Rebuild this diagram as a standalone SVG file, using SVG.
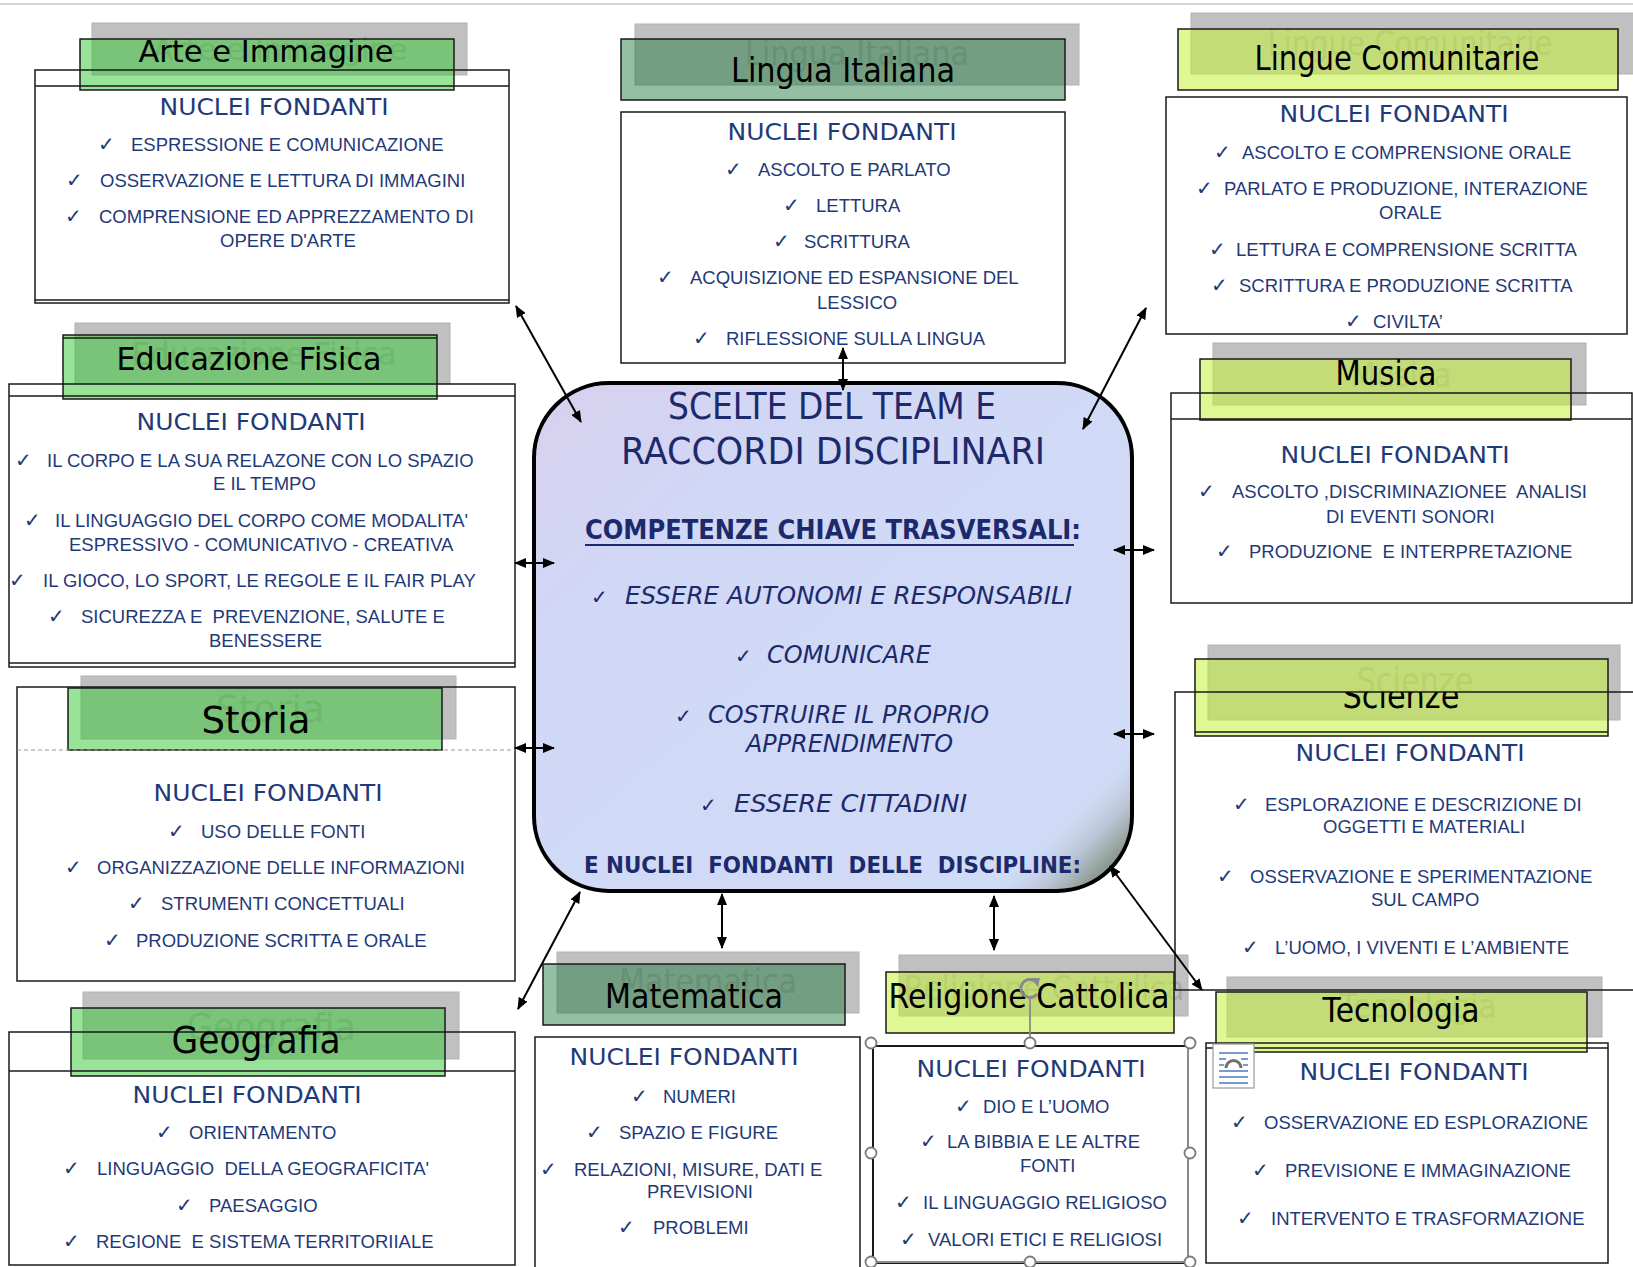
<svg xmlns="http://www.w3.org/2000/svg" width="1633" height="1267" viewBox="0 0 1633 1267">
<style>
.sh{fill:#c0c0c0;stroke:#b2b2b2;stroke-width:1}
.tg{fill:#32c832;fill-opacity:.5;stroke:#1a1a1a;stroke-width:1.5}
.td{fill:#1e783c;fill-opacity:.47;stroke:#1a1a1a;stroke-width:1.5}
.ty{fill:#c6f23c;fill-opacity:.55;stroke:#1a1a1a;stroke-width:1.5}
.bx{fill:none;stroke:#1a1a1a;stroke-width:1.5}
.cm{font-family:"Comic Sans MS","DejaVu Sans",sans-serif}
.tt{fill:#000;text-anchor:middle}
.gh{fill:#a8a8a8;text-anchor:middle}
.nf{font-size:23px;fill:#1f3a78;text-anchor:middle}
.it{font-family:"Liberation Sans",Arial,sans-serif;font-size:18.5px;fill:#1f3a78}
.ck{font-family:"DejaVu Sans",sans-serif;font-size:20px}
.cc{fill:#1c2a6b}
.con line{stroke:#000;stroke-width:2;marker-start:url(#ah);marker-end:url(#ah)}
.hd{fill:#fff;stroke:#7a7a7a;stroke-width:1.8}
</style>
<defs>
<marker id="ah" viewBox="0 0 12 10" refX="11" refY="5" markerWidth="12" markerHeight="10" markerUnits="userSpaceOnUse" orient="auto-start-reverse"><path d="M0,0 L12,5 L0,10 z" fill="#000"/></marker>
<linearGradient id="cg" x1="0" y1="0" x2="1" y2="1"><stop offset="0" stop-color="#d8d0ee"/><stop offset="0.3" stop-color="#d0d8f6"/><stop offset="1" stop-color="#d0dcf8"/></linearGradient>
<linearGradient id="corner" gradientUnits="userSpaceOnUse" x1="940" y1="700" x2="1132" y2="892"><stop offset="0" stop-color="#d0dcf8" stop-opacity="0"/><stop offset="0.62" stop-color="#c8d2ea" stop-opacity="0"/><stop offset="0.75" stop-color="#b4bfcc" stop-opacity="0.7"/><stop offset="0.86" stop-color="#8e9c92"/><stop offset="1" stop-color="#6b7b6b"/></linearGradient>
<clipPath id="scClip"><rect x="1190" y="692" width="430" height="60"/></clipPath>
</defs>
<rect width="1633" height="1267" fill="#fff"/>
<line x1="0" y1="4" x2="1633" y2="4" stroke="#d4d4d4" stroke-width="2"/>

<g id="arte">
<rect class="sh" x="92" y="23" width="375" height="52"/>
<text class="cm gh" x="280" y="60" font-size="31" textLength="255" lengthAdjust="spacingAndGlyphs">Arte e Immagine</text>
<rect class="tg" x="80" y="39" width="374" height="51"/>
<rect class="bx" x="35" y="70" width="474" height="233"/>
<path class="bx" d="M35,86 H509 M35,300 H509"/>
<text class="cm tt" x="266" y="62" font-size="31" textLength="255" lengthAdjust="spacingAndGlyphs">Arte e Immagine</text>
<text class="cm nf" x="274" y="115" textLength="229" lengthAdjust="spacingAndGlyphs">NUCLEI FONDANTI</text>
<text class="it" y="151"><tspan class="ck" x="98">✓</tspan><tspan x="131">ESPRESSIONE E COMUNICAZIONE</tspan></text>
<text class="it" y="187"><tspan class="ck" x="66">✓</tspan><tspan x="100">OSSERVAZIONE E LETTURA DI IMMAGINI</tspan></text>
<text class="it" y="223"><tspan class="ck" x="65">✓</tspan><tspan x="99">COMPRENSIONE ED APPREZZAMENTO DI</tspan></text>
<text class="it" x="220" y="247">OPERE D'ARTE</text>
</g>

<g id="lingua-italiana">
<rect class="sh" x="635" y="24" width="444" height="61"/>
<text class="cm gh" x="857" y="65" font-size="34" textLength="224" lengthAdjust="spacingAndGlyphs">Lingua Italiana</text>
<rect class="td" x="621" y="39" width="444" height="61"/>
<rect class="bx" x="621" y="112" width="444" height="251"/>
<text class="cm tt" x="843" y="82" font-size="34" textLength="224" lengthAdjust="spacingAndGlyphs">Lingua Italiana</text>
<text class="cm nf" x="842" y="140" textLength="229" lengthAdjust="spacingAndGlyphs">NUCLEI FONDANTI</text>
<text class="it" y="176"><tspan class="ck" x="725">✓</tspan><tspan x="758">ASCOLTO E PARLATO</tspan></text>
<text class="it" y="212"><tspan class="ck" x="783">✓</tspan><tspan x="816">LETTURA</tspan></text>
<text class="it" y="248"><tspan class="ck" x="773">✓</tspan><tspan x="804">SCRITTURA</tspan></text>
<text class="it" y="284"><tspan class="ck" x="657">✓</tspan><tspan x="690">ACQUISIZIONE ED ESPANSIONE DEL</tspan></text>
<text class="it" x="817" y="309">LESSICO</text>
<text class="it" y="345"><tspan class="ck" x="693">✓</tspan><tspan x="726">RIFLESSIONE SULLA LINGUA</tspan></text>
</g>

<g id="lingue-comunitarie">
<rect class="sh" x="1191" y="13" width="445" height="61"/>
<text class="cm gh" x="1410" y="55" font-size="34" textLength="285" lengthAdjust="spacingAndGlyphs">Lingue Comunitarie</text>
<rect class="ty" x="1178" y="29" width="440" height="61"/>
<rect class="bx" x="1166" y="97" width="461" height="237"/>
<text class="cm tt" x="1397" y="70" font-size="34" textLength="285" lengthAdjust="spacingAndGlyphs">Lingue Comunitarie</text>
<text class="cm nf" x="1394" y="122" textLength="229" lengthAdjust="spacingAndGlyphs">NUCLEI FONDANTI</text>
<text class="it" y="159"><tspan class="ck" x="1214">✓</tspan><tspan x="1242">ASCOLTO E COMPRENSIONE ORALE</tspan></text>
<text class="it" y="195"><tspan class="ck" x="1196">✓</tspan><tspan x="1224">PARLATO E PRODUZIONE, INTERAZIONE</tspan></text>
<text class="it" x="1379" y="219">ORALE</text>
<text class="it" y="256"><tspan class="ck" x="1209">✓</tspan><tspan x="1236">LETTURA E COMPRENSIONE SCRITTA</tspan></text>
<text class="it" y="292"><tspan class="ck" x="1211">✓</tspan><tspan x="1239">SCRITTURA E PRODUZIONE SCRITTA</tspan></text>
<text class="it" y="328"><tspan class="ck" x="1345">✓</tspan><tspan x="1373">CIVILTA’</tspan></text>
</g>

<g id="educazione-fisica">
<rect class="sh" x="75" y="323" width="375" height="61"/>
<text class="cm gh" x="264" y="365" font-size="32" textLength="265" lengthAdjust="spacingAndGlyphs">Educazione Fisica</text>
<rect class="tg" x="63" y="335" width="374" height="64"/>
<path class="bx" d="M63,338 H437"/>
<rect class="bx" x="9" y="384" width="506" height="283"/>
<path class="bx" d="M9,396 H515 M9,663 H515"/>
<text class="cm tt" x="249" y="370" font-size="32" textLength="265" lengthAdjust="spacingAndGlyphs">Educazione Fisica</text>
<text class="cm nf" x="251" y="430" textLength="229" lengthAdjust="spacingAndGlyphs">NUCLEI FONDANTI</text>
<text class="it" y="467"><tspan class="ck" x="15">✓</tspan><tspan x="47">IL CORPO E LA SUA RELAZONE CON LO SPAZIO</tspan></text>
<text class="it" x="213" y="490">E IL TEMPO</text>
<text class="it" y="527"><tspan class="ck" x="24">✓</tspan><tspan x="55">IL LINGUAGGIO DEL CORPO COME MODALITA'</tspan></text>
<text class="it" x="69" y="551">ESPRESSIVO - COMUNICATIVO - CREATIVA</text>
<text class="it" y="587"><tspan class="ck" x="9">✓</tspan><tspan x="43">IL GIOCO, LO SPORT, LE REGOLE E IL FAIR PLAY</tspan></text>
<text class="it" y="623"><tspan class="ck" x="48">✓</tspan><tspan x="81">SICUREZZA E&#160; PREVENZIONE, SALUTE E</tspan></text>
<text class="it" x="209" y="647">BENESSERE</text>
</g>

<g id="musica">
<rect class="sh" x="1213" y="343" width="373" height="62"/>
<text class="cm gh" x="1401" y="387" font-size="34" textLength="101" lengthAdjust="spacingAndGlyphs">Musica</text>
<rect class="ty" x="1200" y="359" width="371" height="61"/>
<rect class="bx" x="1171" y="393" width="461" height="210"/>
<path class="bx" d="M1171,419 H1632"/>
<text class="cm tt" x="1386" y="385" font-size="34" textLength="101" lengthAdjust="spacingAndGlyphs">Musica</text>
<text class="cm nf" x="1395" y="463" textLength="229" lengthAdjust="spacingAndGlyphs">NUCLEI FONDANTI</text>
<text class="it" y="498"><tspan class="ck" x="1198">✓</tspan><tspan x="1232">ASCOLTO ,DISCRIMINAZIONEE&#160; ANALISI</tspan></text>
<text class="it" x="1326" y="523">DI EVENTI SONORI</text>
<text class="it" y="558"><tspan class="ck" x="1216">✓</tspan><tspan x="1249">PRODUZIONE&#160; E INTERPRETAZIONE</tspan></text>
</g>

<g id="storia">
<rect class="sh" x="81" y="676" width="375" height="63"/>
<text class="cm gh" x="270" y="722" font-size="38" textLength="109" lengthAdjust="spacingAndGlyphs">Storia</text>
<rect class="tg" x="68" y="688" width="374" height="62"/>
<rect class="bx" x="17" y="687" width="498" height="294"/>
<path d="M17,750 H515" stroke="#9a9a9a" stroke-width="1.2" stroke-dasharray="4 3"/>
<text class="cm tt" x="256" y="733" font-size="38" textLength="109" lengthAdjust="spacingAndGlyphs">Storia</text>
<text class="cm nf" x="268" y="801" textLength="229" lengthAdjust="spacingAndGlyphs">NUCLEI FONDANTI</text>
<text class="it" y="838"><tspan class="ck" x="168">✓</tspan><tspan x="201">USO DELLE FONTI</tspan></text>
<text class="it" y="874"><tspan class="ck" x="65">✓</tspan><tspan x="97">ORGANIZZAZIONE DELLE INFORMAZIONI</tspan></text>
<text class="it" y="910"><tspan class="ck" x="128">✓</tspan><tspan x="161">STRUMENTI CONCETTUALI</tspan></text>
<text class="it" y="947"><tspan class="ck" x="104">✓</tspan><tspan x="136">PRODUZIONE SCRITTA E ORALE</tspan></text>
</g>

<g id="geografia">
<rect class="sh" x="83" y="992" width="376" height="67"/>
<text class="cm gh" x="271" y="1040" font-size="38" textLength="169" lengthAdjust="spacingAndGlyphs">Geografia</text>
<rect class="tg" x="71" y="1008" width="374" height="68"/>
<rect class="bx" x="9" y="1032" width="506" height="233"/>
<path class="bx" d="M9,1071 H515"/>
<text class="cm tt" x="256" y="1053" font-size="38" textLength="169" lengthAdjust="spacingAndGlyphs">Geografia</text>
<text class="cm nf" x="247" y="1103" textLength="229" lengthAdjust="spacingAndGlyphs">NUCLEI FONDANTI</text>
<text class="it" y="1139"><tspan class="ck" x="156">✓</tspan><tspan x="189">ORIENTAMENTO</tspan></text>
<text class="it" y="1175"><tspan class="ck" x="63">✓</tspan><tspan x="97">LINGUAGGIO&#160; DELLA GEOGRAFICITA'</tspan></text>
<text class="it" y="1212"><tspan class="ck" x="176">✓</tspan><tspan x="209">PAESAGGIO</tspan></text>
<text class="it" y="1248"><tspan class="ck" x="63">✓</tspan><tspan x="96">REGIONE&#160; E SISTEMA TERRITORIIALE</tspan></text>
</g>

<g id="matematica">
<rect class="sh" x="557" y="952" width="302" height="61"/>
<text class="cm gh" x="708" y="993" font-size="34" textLength="178" lengthAdjust="spacingAndGlyphs">Matematica</text>
<rect class="td" x="543" y="964" width="302" height="61"/>
<rect class="bx" x="535" y="1037" width="325" height="240"/>
<text class="cm tt" x="694" y="1008" font-size="34" textLength="178" lengthAdjust="spacingAndGlyphs">Matematica</text>
<text class="cm nf" x="684" y="1065" textLength="229" lengthAdjust="spacingAndGlyphs">NUCLEI FONDANTI</text>
<text class="it" y="1103"><tspan class="ck" x="631">✓</tspan><tspan x="663">NUMERI</tspan></text>
<text class="it" y="1139"><tspan class="ck" x="586">✓</tspan><tspan x="619">SPAZIO E FIGURE</tspan></text>
<text class="it" y="1176"><tspan class="ck" x="540">✓</tspan><tspan x="574">RELAZIONI, MISURE, DATI E</tspan></text>
<text class="it" x="647" y="1198">PREVISIONI</text>
<text class="it" y="1234"><tspan class="ck" x="618">✓</tspan><tspan x="653">PROBLEMI</tspan></text>
</g>

<g id="religione-cattolica">
<rect class="sh" x="899" y="955" width="289" height="61"/>
<text class="cm gh" x="1044" y="1000" font-size="34" textLength="281" lengthAdjust="spacingAndGlyphs">Religione Cattolica</text>
<rect class="ty" x="886" y="972" width="288" height="61"/>
<rect x="873" y="1046" width="315" height="217" fill="none" stroke="#1a1a1a" stroke-width="2"/>
<path d="M1188,1043 V1262 H871" fill="none" stroke="#8a8a8a" stroke-width="2"/>
<text class="cm tt" x="1029" y="1008" font-size="34" textLength="281" lengthAdjust="spacingAndGlyphs">Religione Cattolica</text>
<line x1="1030" y1="997" x2="1030" y2="1038" stroke="#8a8a8a" stroke-width="1.8"/>
<path d="M1037,994 A9,9 0 1 1 1035,981" fill="none" stroke="#8a8a8a" stroke-width="3"/>
<path d="M1031,978 L1040,978 L1038,987 z" fill="#8a8a8a"/>
<circle class="hd" cx="871" cy="1043" r="5.5"/><circle class="hd" cx="1030" cy="1043" r="5.5"/><circle class="hd" cx="1190" cy="1043" r="5.5"/>
<circle class="hd" cx="871" cy="1153" r="5.5"/><circle class="hd" cx="1190" cy="1153" r="5.5"/>
<circle class="hd" cx="871" cy="1262" r="5.5"/><circle class="hd" cx="1030" cy="1262" r="5.5"/><circle class="hd" cx="1190" cy="1262" r="5.5"/>
<text class="cm nf" x="1031" y="1077" textLength="229" lengthAdjust="spacingAndGlyphs">NUCLEI FONDANTI</text>
<text class="it" y="1113"><tspan class="ck" x="955">✓</tspan><tspan x="983">DIO E L’UOMO</tspan></text>
<text class="it" y="1148"><tspan class="ck" x="920">✓</tspan><tspan x="947">LA BIBBIA E LE ALTRE</tspan></text>
<text class="it" x="1020" y="1172">FONTI</text>
<text class="it" y="1209"><tspan class="ck" x="895">✓</tspan><tspan x="923">IL LINGUAGGIO RELIGIOSO</tspan></text>
<text class="it" y="1246"><tspan class="ck" x="900">✓</tspan><tspan x="928">VALORI ETICI E RELIGIOSI</tspan></text>
</g>

<g id="tecnologia">
<rect class="sh" x="1227" y="977" width="375" height="60"/>
<text class="cm gh" x="1418" y="1018" font-size="33" textLength="157" lengthAdjust="spacingAndGlyphs">Tecnologia</text>
<rect class="ty" x="1216" y="992" width="371" height="60"/>
<rect class="bx" x="1206" y="1043" width="402" height="220"/>
<path class="bx" d="M1206,1048 H1608"/>
<text class="cm tt" x="1401" y="1022" font-size="33" textLength="157" lengthAdjust="spacingAndGlyphs">Tecnologia</text>
<rect x="1213" y="1044" width="41" height="44" fill="#fff" stroke="#9a9a9a" stroke-width="1.2"/>
<path d="M1219,1053 H1248 M1219,1059 H1226 M1241,1059 H1248 M1219,1065 H1224 M1243,1065 H1248 M1219,1071 H1248 M1219,1077 H1248 M1219,1083 H1248" stroke="#4a7ebb" stroke-width="1.5"/>
<path d="M1226,1068 A7.5,7.5 0 0 1 1241,1068" fill="none" stroke="#707070" stroke-width="3"/>
<text class="cm nf" x="1414" y="1080" textLength="229" lengthAdjust="spacingAndGlyphs">NUCLEI FONDANTI</text>
<text class="it" y="1129"><tspan class="ck" x="1231">✓</tspan><tspan x="1264">OSSERVAZIONE ED ESPLORAZIONE</tspan></text>
<text class="it" y="1177"><tspan class="ck" x="1252">✓</tspan><tspan x="1285">PREVISIONE E IMMAGINAZIONE</tspan></text>
<text class="it" y="1225"><tspan class="ck" x="1237">✓</tspan><tspan x="1271">INTERVENTO E TRASFORMAZIONE</tspan></text>
</g>

<g id="scienze">
<rect class="sh" x="1208" y="645" width="412" height="75"/>
<text class="cm gh" x="1415" y="693" font-size="36" textLength="117" lengthAdjust="spacingAndGlyphs">Scienze</text>
<rect class="ty" x="1195" y="659" width="413" height="77"/>
<path class="bx" d="M1195,732 H1608"/>
<path class="bx" d="M1633,692 H1175 V990 H1633"/>
<text class="cm tt" x="1401" y="708" font-size="36" textLength="117" lengthAdjust="spacingAndGlyphs" clip-path="url(#scClip)">Scienze</text>
<text class="cm nf" x="1410" y="761" textLength="229" lengthAdjust="spacingAndGlyphs">NUCLEI FONDANTI</text>
<text class="it" y="811"><tspan class="ck" x="1233">✓</tspan><tspan x="1265">ESPLORAZIONE E DESCRIZIONE DI</tspan></text>
<text class="it" x="1323" y="833">OGGETTI E MATERIALI</text>
<text class="it" y="883"><tspan class="ck" x="1217">✓</tspan><tspan x="1250">OSSERVAZIONE E SPERIMENTAZIONE</tspan></text>
<text class="it" x="1371" y="906">SUL CAMPO</text>
<text class="it" y="954"><tspan class="ck" x="1242">✓</tspan><tspan x="1275">L’UOMO, I VIVENTI E L’AMBIENTE</tspan></text>
</g>

<g id="center">
<rect x="534" y="383" width="598" height="508" rx="75" fill="url(#cg)"/>
<rect x="534" y="383" width="598" height="508" rx="75" fill="url(#corner)"/>
<rect x="534" y="383" width="598" height="508" rx="75" fill="none" stroke="#000" stroke-width="4"/>
<text class="cm cc" x="832" y="419" font-size="38" text-anchor="middle" textLength="328" lengthAdjust="spacingAndGlyphs">SCELTE DEL TEAM E</text>
<text class="cm cc" x="833" y="464" font-size="38" text-anchor="middle" textLength="424" lengthAdjust="spacingAndGlyphs">RACCORDI DISCIPLINARI</text>
<text class="cm cc" x="585" y="539" font-size="26" font-weight="bold" textLength="496" lengthAdjust="spacingAndGlyphs">COMPETENZE CHIAVE TRASVERSALI:</text>
<line x1="585" y1="545" x2="1074" y2="545" stroke="#1c2a6b" stroke-width="2"/>
<text class="cm cc" font-size="24" font-style="italic" y="604"><tspan class="ck" x="591" font-size="25" font-style="normal">✓</tspan><tspan x="625" textLength="447" lengthAdjust="spacingAndGlyphs">ESSERE AUTONOMI E RESPONSABILI</tspan></text>
<text class="cm cc" font-size="24" font-style="italic" y="663"><tspan class="ck" x="735" font-size="25" font-style="normal">✓</tspan><tspan x="767" textLength="164" lengthAdjust="spacingAndGlyphs">COMUNICARE</tspan></text>
<text class="cm cc" font-size="24" font-style="italic" y="723"><tspan class="ck" x="675" font-size="25" font-style="normal">✓</tspan><tspan x="708" textLength="281" lengthAdjust="spacingAndGlyphs">COSTRUIRE IL PROPRIO</tspan></text>
<text class="cm cc" font-size="24" font-style="italic" x="746" y="752" textLength="207" lengthAdjust="spacingAndGlyphs">APPRENDIMENTO</text>
<text class="cm cc" font-size="24" font-style="italic" y="812"><tspan class="ck" x="700" font-size="25" font-style="normal">✓</tspan><tspan x="734" textLength="233" lengthAdjust="spacingAndGlyphs">ESSERE CITTADINI</tspan></text>
<text class="cm cc" x="584" y="873" font-size="23" font-weight="bold" textLength="497" lengthAdjust="spacingAndGlyphs">E NUCLEI&#160; FONDANTI&#160; DELLE&#160; DISCIPLINE:</text>
</g>

<g id="connectors" class="con">
<line x1="516" y1="306" x2="581" y2="422"/>
<line x1="843" y1="348" x2="843" y2="390"/>
<line x1="1146" y1="308" x2="1083" y2="429"/>
<line x1="515" y1="563" x2="554" y2="563"/>
<line x1="515" y1="748" x2="554" y2="748"/>
<line x1="1154" y1="550" x2="1114" y2="550"/>
<line x1="1154" y1="734" x2="1114" y2="734"/>
<line x1="580" y1="892" x2="518" y2="1009"/>
<line x1="722" y1="894" x2="722" y2="948"/>
<line x1="994" y1="896" x2="994" y2="950"/>
<line x1="1110" y1="866" x2="1202" y2="990"/>
</g>
</svg>
